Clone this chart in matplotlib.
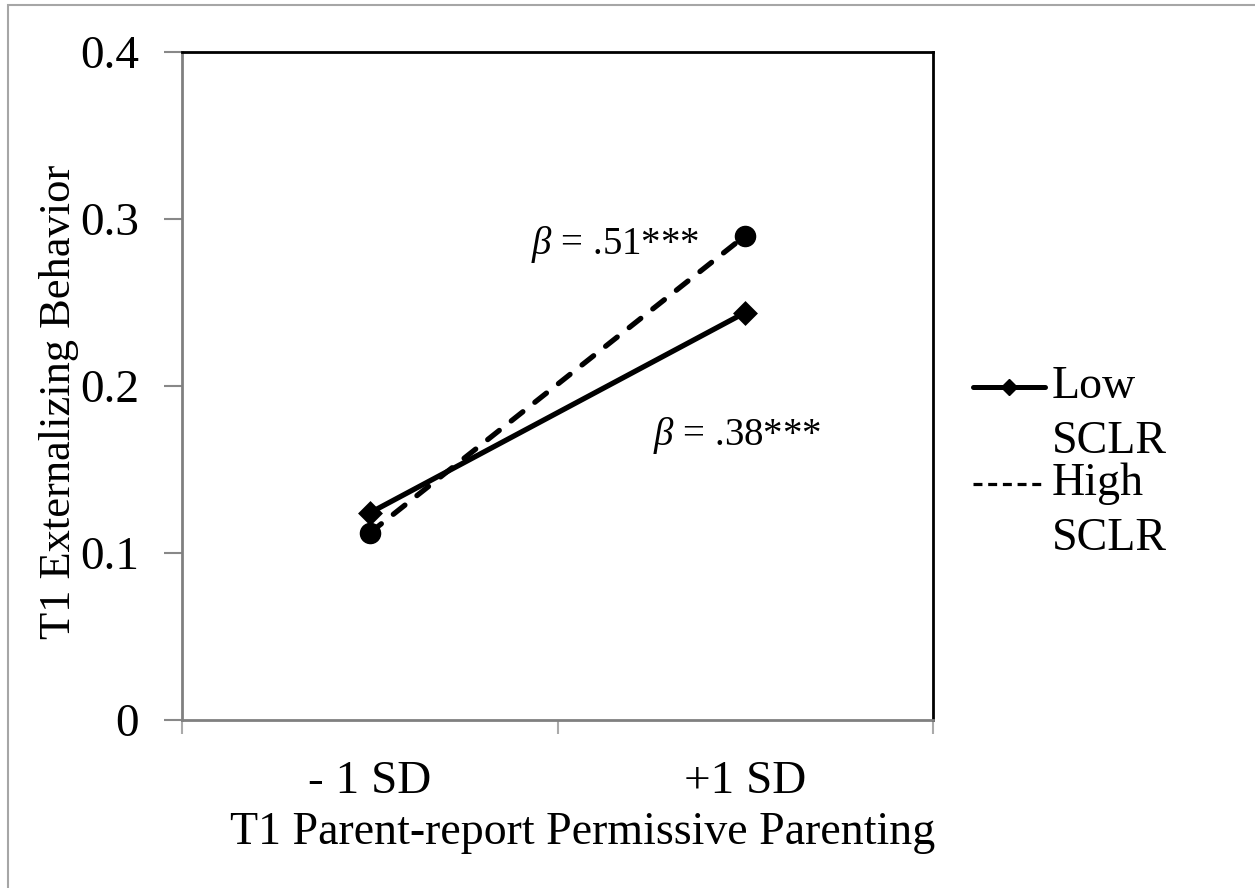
import matplotlib
matplotlib.use("Agg")
import matplotlib.pyplot as plt
from matplotlib.lines import Line2D
from matplotlib.patches import Rectangle

# ---- data ----
categories = ['- 1 SD', '+1 SD']
low_sclr = [0.124, 0.244]
high_sclr = [0.112, 0.290]
yticks = [0.0, 0.1, 0.2, 0.3, 0.4]
ytick_labels = ['0', '0.1', '0.2', '0.3', '0.4']
series_names = ['Low\nSCLR', 'High\nSCLR']
annot_texts = [r'$\mathit{\beta}$ = .51***', r'$\mathit{\beta}$ = .38***']

plt.rcParams['font.family'] = ['Liberation Serif', 'DejaVu Serif']
plt.rcParams['mathtext.fontset'] = 'custom'
plt.rcParams['mathtext.rm'] = 'Liberation Serif'
plt.rcParams['mathtext.it'] = 'Liberation Serif:italic'

W, H = 1255, 888
fig = plt.figure(figsize=(W / 100, H / 100), dpi=100)
ax = fig.add_axes([182 / W, 1 - 720 / H, (933 - 182) / W, (720 - 52) / H])

xpos = [0.5, 1.5]
ax.plot(xpos, high_sclr, color='black', lw=3.8, dashes=(2.8, 2.9),
        dash_capstyle='round', marker='o', ms=14.5, zorder=3)
ax.plot(xpos, low_sclr, color='black', lw=3.8, solid_capstyle='round',
        marker='D', ms=10.5, mew=2.5, markeredgecolor='black', zorder=4)
for l in ax.lines:
    l.set_solid_joinstyle('round')
    l.set_dash_joinstyle('round')

ax.set_xlim(0, 2)
ax.set_ylim(0, 0.4)
ax.set_yticks(yticks)
ax.set_yticklabels(ytick_labels)
ax.set_xticks([0, 1, 2])
ax.set_xticklabels([])
ax.set_xticks(xpos, minor=True)
ax.set_xticklabels(categories, minor=True)

ax.tick_params(axis='y', direction='out', length=13, width=1.5, color='#888888',
               labelsize=34, pad=18)
ax.tick_params(axis='x', which='major', direction='out', length=10, width=1.5,
               color='#aaaaaa')
ax.tick_params(axis='x', which='minor', length=0, labelsize=34, pad=29)

for s in ['left', 'bottom']:
    ax.spines[s].set_color('#808080')
    ax.spines[s].set_linewidth(2)
for s in ['top', 'right']:
    ax.spines[s].set_color('black')
    ax.spines[s].set_linewidth(2)

ax.set_xlabel('T1 Parent-report Permissive Parenting', fontsize=33)
ax.xaxis.set_label_coords(0.533, -0.137)
ax.set_ylabel('T1 Externalizing Behavior', fontsize=32)
ax.yaxis.set_label_coords(-0.137, 0.476)

# annotations
ax.text(0.93, 0.2845, annot_texts[0], fontsize=28, va='center', ha='left')
ax.text(1.255, 0.1705, annot_texts[1], fontsize=28, va='center', ha='left')

# manual legend (handles aligned with first line of each label)
x0, x1 = 973 / W, 1045 / W
ly = [1 - 387 / H, 1 - 484 / H]
fig.add_artist(Line2D([x0, x1], [ly[0], ly[0]], transform=fig.transFigure,
                      color='black', lw=3.6, solid_capstyle='round'))
fig.add_artist(Line2D([(x0 + x1) / 2], [ly[0]], transform=fig.transFigure,
                      color='black', marker='D', ms=8.5, lw=0))
fig.add_artist(Line2D([x0, 1042 / W], [ly[1], ly[1]], transform=fig.transFigure,
                      color='black', lw=2.3, dashes=(2.8, 1.8)))
for y, name in zip(ly, series_names):
    first, second = name.split('\n')
    fig.text(1052 / W, y, first, fontsize=33, va='center', ha='left')
    fig.text(1052 / W, y - 55 / H, second, fontsize=33, va='center', ha='left')

# outer frame (partially cropped)
fig.add_artist(Rectangle((8 / W, -0.2), 1.2, 1 - 5 / H + 0.2,
                         transform=fig.transFigure, fill=False,
                         edgecolor='#a6a6a6', lw=1.5))

fig.savefig('out.png', dpi=100)
